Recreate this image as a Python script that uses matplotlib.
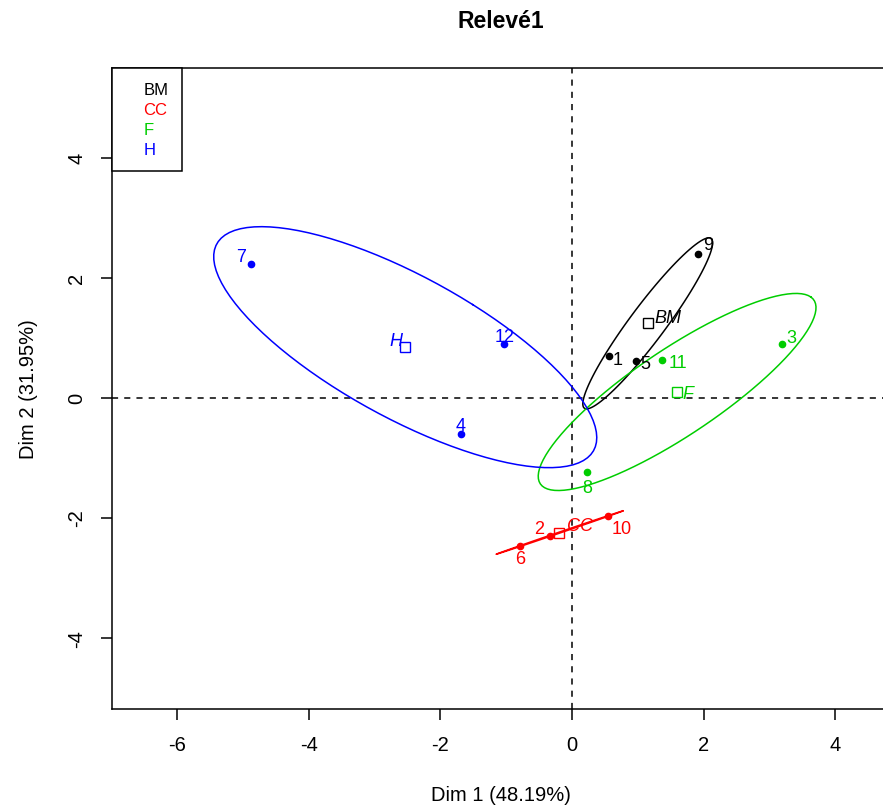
import numpy as np
import matplotlib
matplotlib.use('Agg')
import matplotlib.pyplot as plt
from matplotlib.lines import Line2D

plt.rcParams['font.family'] = ['Liberation Sans', 'DejaVu Sans']
plt.rcParams['axes.unicode_minus'] = False

# groups (habillage) and their colours
groups = ['BM', 'CC', 'F', 'H']
group_colors = ['black', '#FF0000', '#00CD00', '#0000FF']

# individuals
ind_labels = ['1', '2', '3', '4', '5', '6', '7', '8', '9', '10', '11', '12']
ind_group = ['BM', 'CC', 'F', 'H', 'BM', 'CC', 'H', 'F', 'BM', 'CC', 'F', 'H']
dim1 = [0.56, -0.33, 3.19, -1.69, 0.97, -0.79, -4.88, 0.23, 1.92, 0.55, 1.37, -1.03]
dim2 = [0.70, -2.31, 0.89, -0.61, 0.61, -2.47, 2.23, -1.24, 2.40, -1.97, 0.63, 0.90]

x_ticks = [-6, -4, -2, 0, 2, 4]
y_ticks = [-4, -2, 0, 2, 4]

# label offsets in points (like autoLab placement)
ind_offsets = {'1': (6.5, -3), '2': (-8, 5.5), '3': (6.5, 5), '4': (0, 6),
               '5': (7, -1.5), '6': (0, -9), '7': (-7, 5), '8': (0, -11.5),
               '9': (7, 6.5), '10': (9.5, -9.5), '11': (11, -2), '12': (0, 5)}
cent_offsets = {'BM': (14.5, 4.5), 'CC': (14.5, 5), 'F': (8, -1), 'H': (-6.5, 5)}


def conf_ellipse(x, y, level=0.95, npoints=100):
    # confidence ellipse around the barycentre (cov / n), as in plotellipses
    x = np.asarray(x)
    y = np.asarray(y)
    cov = np.cov(x, y) / len(x)
    t = np.sqrt(-2 * np.log(1 - level))
    sx, sy = np.sqrt(np.diag(cov))
    r = np.clip(cov[0, 1] / (sx * sy), -1, 1)
    d = np.arccos(r)
    a = np.linspace(0, 2 * np.pi, npoints)
    return t * sx * np.cos(a + d / 2) + x.mean(), t * sy * np.cos(a - d / 2) + y.mean()


fig = plt.figure(figsize=(8.83, 8.12), dpi=100)
ax = fig.add_axes([0.1274, 0.1256, 0.8805, 0.79])

ax.axhline(0, color='black', lw=1.1, ls='--', dashes=(4, 4), zorder=1)
ax.axvline(0, color='black', lw=1.1, ls='--', dashes=(4, 4), zorder=1)

x_all = np.array(dim1)
y_all = np.array(dim2)
g_all = np.array(ind_group)

for g, col in zip(groups, group_colors):
    m = g_all == g
    gx, gy = x_all[m], y_all[m]
    ex, ey = conf_ellipse(gx, gy)
    ax.plot(ex, ey, color=col, lw=1.1, zorder=2)
    ax.plot(gx, gy, 'o', color=col, ms=4.5, zorder=3)
    cx, cy = gx.mean(), gy.mean()
    ax.plot(cx, cy, 's', mfc='none', mec=col, ms=6.5, mew=1.0, zorder=3)
    ax.annotate(g, (cx, cy), xytext=cent_offsets[g], textcoords='offset points',
                ha='center', va='center', color=col, fontsize=13, style='italic')

for lab, x, y, g in zip(ind_labels, dim1, dim2, ind_group):
    col = group_colors[groups.index(g)]
    ax.annotate(lab, (x, y), xytext=ind_offsets[lab], textcoords='offset points',
                ha='center', va='center', color=col, fontsize=13)

ax.set_xlim(-6.98, 4.83)
ax.set_ylim(-5.19, 5.5)
ax.set_xticks(x_ticks)
ax.set_yticks(y_ticks)
ax.tick_params(axis='both', direction='out', length=8, width=1.1, labelsize=14.5, pad=11)
ax.tick_params(axis='y', labelrotation=90)
for lab in ax.get_yticklabels():
    lab.set_va('center')
for s in ax.spines.values():
    s.set_linewidth(1.1)

ax.set_xlabel('Dim 1 (48.19%)', fontsize=14.5, labelpad=22)
ax.set_ylabel('Dim 2 (31.95%)', fontsize=14.5, labelpad=21)
ax.set_title('Relevé1', fontsize=16.5, fontweight='bold', pad=29)

handles = [Line2D([], [], linestyle='none') for _ in groups]
leg = ax.legend(handles, groups, loc='upper left', borderaxespad=0, fancybox=False,
                edgecolor='black', labelcolor=group_colors, fontsize=12,
                handlelength=0.5, handletextpad=0.5, borderpad=0.85, labelspacing=0.3,
                framealpha=1)
leg.get_frame().set_linewidth(1.1)

fig.savefig('out.png', dpi=100)
